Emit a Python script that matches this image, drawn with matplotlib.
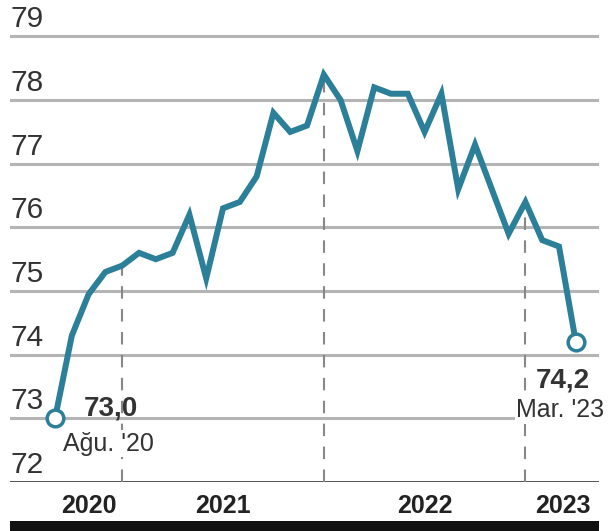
import matplotlib.pyplot as plt
from matplotlib.patches import Rectangle

# aylık değerler, Ağustos 2020 - Mart 2023
values = [73.0, 74.3, 74.95, 75.3, 75.4, 75.6, 75.5, 75.6, 76.2, 75.2,
          76.3, 76.4, 76.8, 77.8, 77.5, 77.6, 78.4, 78.0, 77.2, 78.2,
          78.1, 78.1, 77.5, 78.1, 76.6, 77.3, 76.6, 75.9, 76.4, 75.8,
          75.7, 74.2]
y_ticks = [72, 73, 74, 75, 76, 77, 78, 79]
years = ['2020', '2021', '2022', '2023']
dec_idx = [4, 16, 28]   # aralık ayları (kesikli çizgiler)
first_label = ('73,0', "Ağu. '20")
last_label = ('74,2', "Mar. '23")

teal = '#2b7f98'
grid = '#b4b4b4'
txt = '#333333'

fig = plt.figure(figsize=(6.08, 5.31), dpi=100)
ax = fig.add_axes([10/608, 49/531, 589/608, 471/531])
x = list(range(len(values)))
ax.set_xlim(-2.68, 32.38)
ax.set_ylim(72, 79.4)
ax.axis('off')

for t in y_ticks[1:]:
    ax.axhline(t, color=grid, lw=2.2, zorder=1)
ax.axhline(72, color='#444444', lw=2, zorder=1)
for t in y_ticks:
    ax.text(-2.68, t + 0.05, str(t), ha='left', va='bottom', fontsize=21.5,
            color=txt, family=['Liberation Sans Narrow', 'Liberation Sans'])

for i in dec_idx:
    ax.vlines(i, 72, values[i], colors='#888888', lw=1.5,
              linestyles=(0, (6, 5)), zorder=2)

ax.plot(x, values, color=teal, lw=4.3, solid_joinstyle='miter', zorder=3)
ax.plot([x[0], x[-1]], [values[0], values[-1]], 'o', ms=12, mfc='white',
        mec=teal, mew=2.5, zorder=4)

# etiketler
bbox = dict(facecolor='white', edgecolor='none', pad=1)
ax.text(3.3, 73.16, first_label[0], ha='center', va='center', fontsize=20,
        fontweight='bold', color=txt, family='Liberation Sans', zorder=5)
ax.text(3.2, 72.6, first_label[1], ha='center', va='center', fontsize=18,
        color=txt, family='Liberation Sans', bbox=bbox, zorder=5)
ax.text(30.2, 73.6, last_label[0], ha='center', va='center', fontsize=20,
        fontweight='bold', color=txt, family='Liberation Sans', bbox=bbox, zorder=5)
ax.text(32.7, 73.13, last_label[1], ha='right', va='center', fontsize=18,
        color=txt, family='Liberation Sans', bbox=bbox, zorder=5, clip_on=False)

# yıl etiketleri
bounds = [0] + dec_idx + [32.4]
for k, yr in enumerate(years):
    ax.text((bounds[k] + bounds[k + 1]) / 2, 71.62, yr, ha='center', va='center',
            fontsize=18, fontweight='bold', color='#222222',
            family='Liberation Sans', clip_on=False)

fig.add_artist(Rectangle((10/608, 0), 589/608, 10/531, transform=fig.transFigure,
                         facecolor='#111111', edgecolor='none'))

fig.savefig('out.png', dpi=100)
